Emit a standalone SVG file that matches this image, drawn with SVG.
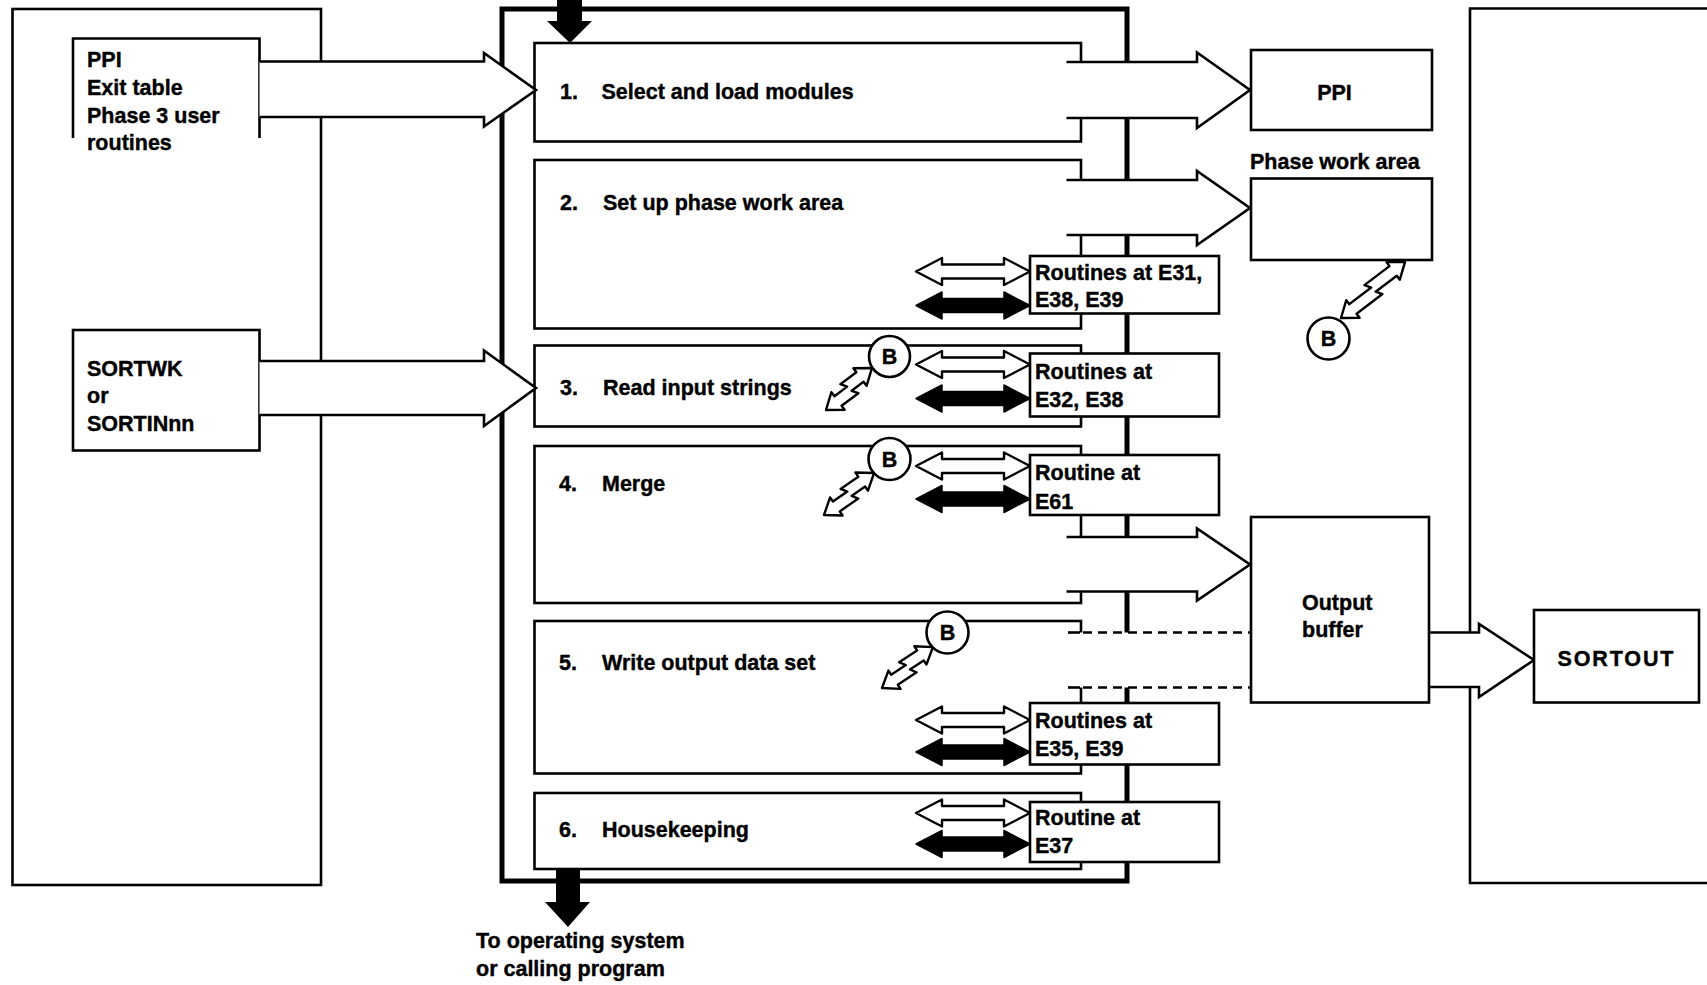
<svg xmlns="http://www.w3.org/2000/svg" width="1707" height="985" viewBox="0 0 1707 985">
<style>
.ln{fill:none;stroke:#000;stroke-width:2.6}
.bx{fill:#fff;stroke:#000;stroke-width:2.6}
.thick{fill:none;stroke:#000;stroke-width:5}
.wf{fill:#fff;stroke:none}
.t{font-family:"Liberation Sans",Arial,Helvetica,sans-serif;font-weight:bold;font-size:21.5px;fill:#000;stroke:#000;stroke-width:0.4}
.c{text-anchor:middle}
.dash{fill:none;stroke:#000;stroke-width:2.6;stroke-dasharray:9 6}
.wa{fill:#fff;stroke:#000;stroke-width:2.4;stroke-linejoin:round}
.ba{fill:#000;stroke:#000;stroke-width:1.5;stroke-linejoin:round}
.zz{fill:#fff;stroke:#000;stroke-width:2.4;stroke-linejoin:round}
.blk{fill:#000;stroke:none}
</style>
<defs>
<path id="dbl" d="M0,0 L26,-13.5 V-7 H88 V-13.5 L114,0 L88,13.5 V7 H26 V13.5 Z"/>
<path id="zz62" d="M0,0 L15,-11 L15,-6 L31,-6 L27,-12 L47,-12 L47,-17 L62,-6 L47,5 L47,0 L32,0 L36,6 L15,6 L15,11 Z"/>
<path id="zz65" d="M0,0 L15,-11 L15,-6 L32.5,-6 L28.5,-12 L50,-12 L50,-17 L65,-6 L50,5 L50,0 L33.5,0 L37.5,6 L15,6 L15,11 Z"/>
<path id="zz85" d="M0,0 L15,-11 L15,-6 L42.5,-6 L38.5,-12 L70,-12 L70,-17 L85,-6 L70,5 L70,0 L43.5,0 L47.5,6 L15,6 L15,11 Z"/>
</defs>
<rect width="1707" height="985" fill="#fff"/>

<g id="left-container"><rect class="ln" x="12.5" y="9" width="308.5" height="876"/></g>
<g id="right-container"><path class="ln" d="M1720,8.5 H1470 V883 H1720"/></g>
<g id="center-container"><rect class="thick" x="502" y="9" width="625" height="872"/></g>

<g id="ppi-in">
<path class="ln" d="M73,138 V38.5 H259.5 V138"/>
<text class="t" x="87" y="67">PPI</text>
<text class="t" x="87" y="95">Exit table</text>
<text class="t" x="87" y="123">Phase 3 user</text>
<text class="t" x="87" y="150">routines</text>
</g>
<g id="sortwk">
<rect class="bx" x="73" y="330" width="186.5" height="120.5"/>
<text class="t" x="87" y="376">SORTWK</text>
<text class="t" x="87" y="403">or</text>
<text class="t" x="87" y="431">SORTINnn</text>
</g>

<g id="step1"><rect class="bx" x="534.5" y="43" width="546.5" height="98.5"/>
<text class="t" x="560" y="98.5">1.</text><text class="t" x="601.5" y="98.5">Select and load modules</text></g>
<g id="step2"><rect class="bx" x="534.5" y="160" width="546.5" height="168.5"/>
<text class="t" x="560" y="210">2.</text><text class="t" x="603" y="210">Set up phase work area</text></g>
<g id="step3"><rect class="bx" x="534.5" y="345.5" width="546.5" height="81"/>
<text class="t" x="560" y="395">3.</text><text class="t" x="603" y="395">Read input strings</text></g>
<g id="step4"><rect class="bx" x="534.5" y="446" width="546.5" height="157"/>
<text class="t" x="559" y="491">4.</text><text class="t" x="602" y="491">Merge</text></g>
<g id="step5"><rect class="bx" x="534.5" y="621" width="546.5" height="152.5"/>
<text class="t" x="559" y="670">5.</text><text class="t" x="602" y="670">Write output data set</text></g>
<g id="step6"><rect class="bx" x="534.5" y="793" width="546.5" height="76"/>
<text class="t" x="559" y="837">6.</text><text class="t" x="602" y="837">Housekeeping</text></g>

<g id="connectors">
<path class="wf" d="M259.5,61.5 H484 V53 L536,90 L484,126.5 V117 H259.5 Z"/>
<path class="ln" d="M259.5,61.5 H484 V53 L536,90 L484,126.5 V117 H259.5"/>
<path class="wf" d="M259.5,361 H484 V350.5 L536,388 L484,426 V415 H259.5 Z"/>
<path class="ln" d="M259.5,361 H484 V350.5 L536,388 L484,426 V415 H259.5"/>
<path class="wf" d="M1066.5,62 H1197 V52.5 L1250,90 L1197,128 V118 H1066.5 Z"/>
<path class="ln" d="M1066.5,62 H1197 V52.5 L1250,90 L1197,128 V118 H1066.5"/>
<path class="wf" d="M1066.5,180 H1197 V171 L1250,208 L1197,245 V235 H1066.5 Z"/>
<path class="ln" d="M1066.5,180 H1197 V171 L1250,208 L1197,245 V235 H1066.5"/>
<path class="wf" d="M1066.5,537 H1197 V528.5 L1250,564.5 L1197,600.5 V591.5 H1066.5 Z"/>
<path class="ln" d="M1066.5,537 H1197 V528.5 L1250,564.5 L1197,600.5 V591.5 H1066.5"/>
<rect class="wf" x="1066.5" y="632.5" width="183" height="55"/>
<path class="ln" d="M1068,632.5 H1080"/>
<path class="ln" d="M1068,687.5 H1080"/>
<path class="dash" d="M1083,632.5 H1250 M1083,687.5 H1250"/>
<path class="wf" d="M1429,632.5 H1479 V624 L1534,660 L1479,697 V687 H1429 Z"/>
<path class="ln" d="M1429,632.5 H1479 V624 L1534,660 L1479,697 V687 H1429"/>
<polygon class="blk" points="557,0 582,0 582,21 592,21 570,43 547,21 557,21"/>
<polygon class="blk" points="556,869 580,869 580,902 590,902 568,927 545,902 556,902"/>
<use href="#dbl" class="wa" transform="translate(916,271.5)"/>
<use href="#dbl" class="ba" transform="translate(916,305.5)"/>
<use href="#dbl" class="wa" transform="translate(916,364.5)"/>
<use href="#dbl" class="ba" transform="translate(916,398.5)"/>
<use href="#dbl" class="wa" transform="translate(916,466)"/>
<use href="#dbl" class="ba" transform="translate(916,499)"/>
<use href="#dbl" class="wa" transform="translate(916,720)"/>
<use href="#dbl" class="ba" transform="translate(916,752)"/>
<use href="#dbl" class="wa" transform="translate(916,813)"/>
<use href="#dbl" class="ba" transform="translate(916,844)"/>
<use href="#zz62" class="zz" transform="translate(826,410) rotate(-36.9)"/>
<use href="#zz65" class="zz" transform="translate(824,515) rotate(-34.7)"/>
<use href="#zz65" class="zz" transform="translate(882,688) rotate(-33.5)"/>
<use href="#zz85" class="zz" transform="translate(1341,318) rotate(-37.2)"/>
</g>

<g id="routines2"><rect class="bx" x="1030" y="256" width="189" height="57.5"/>
<text class="t" x="1035" y="280">Routines at E31,</text><text class="t" x="1035" y="307">E38, E39</text></g>
<g id="routines3"><rect class="bx" x="1030" y="353.5" width="189" height="63"/>
<text class="t" x="1035" y="379">Routines at</text><text class="t" x="1035" y="407">E32, E38</text></g>
<g id="routine4"><rect class="bx" x="1030" y="455" width="189" height="60"/>
<text class="t" x="1035" y="480">Routine at</text><text class="t" x="1035" y="508.5">E61</text></g>
<g id="routines5"><rect class="bx" x="1030" y="703" width="189" height="61.5"/>
<text class="t" x="1035" y="727.5">Routines at</text><text class="t" x="1035" y="755.5">E35, E39</text></g>
<g id="routine6"><rect class="bx" x="1030" y="802" width="189" height="60"/>
<text class="t" x="1035" y="825">Routine at</text><text class="t" x="1035" y="852.5">E37</text></g>

<g id="ppi-out"><rect class="bx" x="1251" y="50" width="181" height="80"/>
<text class="t c" x="1334.5" y="100">PPI</text></g>
<g id="phase-work-area"><text class="t" x="1250" y="168.5">Phase work area</text>
<rect class="bx" x="1251" y="178.5" width="181" height="81.5"/></g>
<g id="output-buffer"><rect class="bx" x="1251" y="517" width="178" height="185.5"/>
<text class="t" x="1302" y="609.5">Output</text><text class="t" x="1302" y="637">buffer</text></g>
<g id="sortout"><rect class="bx" x="1534" y="610" width="165" height="92.5"/>
<text class="t c" x="1615.5" y="665.5" textLength="116" lengthAdjust="spacing">SORTOUT</text></g>

<g id="b-phase"><circle class="bx" cx="1328.5" cy="338.5" r="21"/><text class="t c" x="1328.5" y="346">B</text></g>
<g id="b-step3"><circle class="bx" cx="889.5" cy="356.5" r="20.5"/><text class="t c" x="889.5" y="364">B</text></g>
<g id="b-step4"><circle class="bx" cx="889.5" cy="459" r="21"/><text class="t c" x="889.5" y="466.5">B</text></g>
<g id="b-step5"><circle class="bx" cx="947.5" cy="632.5" r="21"/><text class="t c" x="947.5" y="640">B</text></g>

<g id="exit-label">
<text class="t" x="476" y="948">To operating system</text>
<text class="t" x="476" y="976">or calling program</text>
</g>
</svg>
